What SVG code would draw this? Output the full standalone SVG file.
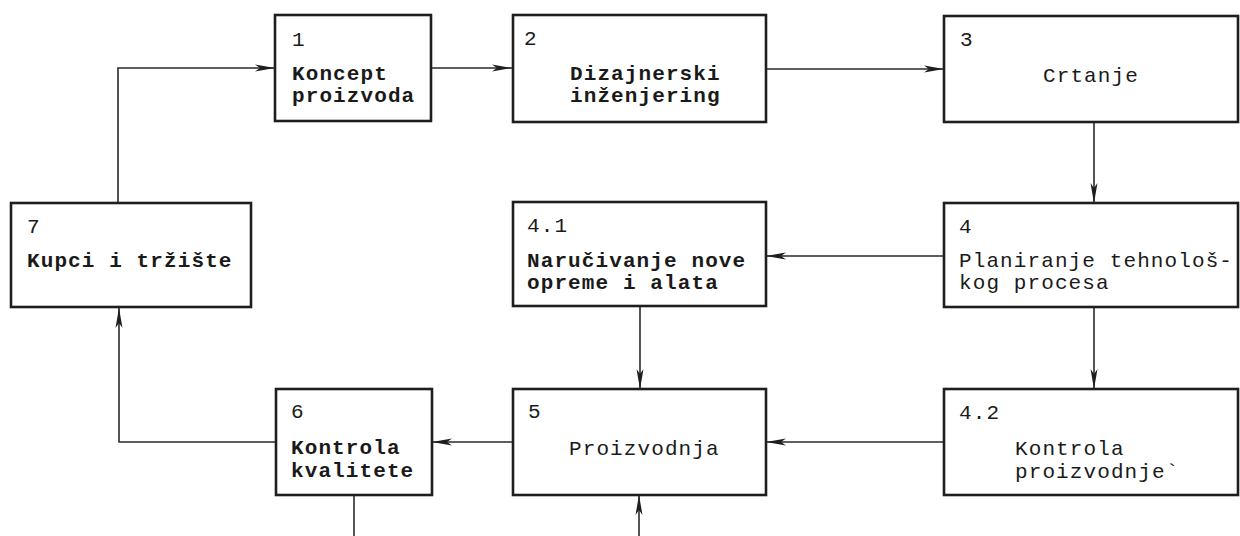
<svg xmlns="http://www.w3.org/2000/svg" width="1240" height="536" viewBox="0 0 1240 536">
<defs>
<marker id="arr" markerUnits="userSpaceOnUse" markerWidth="20" markerHeight="8" refX="20" refY="4" orient="auto" overflow="visible">
<path d="M0,0.5 L20,4 L0,7.5 L5,4 Z" fill="#1e1e1e"/>
</marker>
<style>
.box{fill:#fff;stroke:#1e1e1e;stroke-width:2.6}
.c{fill:none;stroke:#2a2a2a;stroke-width:1.6}
text{font-family:"Liberation Mono","Courier New",monospace;font-size:21px;letter-spacing:1.1px;fill:#1a1a1a}
.b{font-weight:bold}
</style>
</defs>
<rect width="1240" height="536" fill="#fff"/>
<g id="connectors">
<path class="c" d="M118,203 V68 H275" marker-end="url(#arr)"/>
<path class="c" d="M432,68 H512" marker-end="url(#arr)"/>
<path class="c" d="M766,69 H944" marker-end="url(#arr)"/>
<path class="c" d="M1094,122 V203" marker-end="url(#arr)"/>
<path class="c" d="M944,256 H766" marker-end="url(#arr)"/>
<path class="c" d="M640,307 V389" marker-end="url(#arr)"/>
<path class="c" d="M1094,308 V389" marker-end="url(#arr)"/>
<path class="c" d="M944,442 H766" marker-end="url(#arr)"/>
<path class="c" d="M513,442 H432" marker-end="url(#arr)"/>
<path class="c" d="M276,442 H119 V308" marker-end="url(#arr)"/>
<path class="c" d="M354,495 V536"/>
<path class="c" d="M639,536 V495" marker-end="url(#arr)"/>
</g>
<g id="n1">
<rect class="box" x="275" y="15" width="156" height="106"/>
<text x="292" y="46">1</text>
<text class="b" x="292" y="80">Koncept</text>
<text class="b" x="292" y="102">proizvoda</text>
</g>
<g id="n2">
<rect class="box" x="513" y="15" width="253" height="107"/>
<text x="524" y="45">2</text>
<text class="b" x="570" y="80">Dizajnerski</text>
<text class="b" x="570" y="102">inženjering</text>
</g>
<g id="n3">
<rect class="box" x="944" y="16" width="294" height="106"/>
<text x="960" y="46">3</text>
<text x="1043" y="82">Crtanje</text>
</g>
<g id="n7">
<rect class="box" x="11" y="203" width="240" height="104"/>
<text x="27" y="233">7</text>
<text class="b" x="27" y="267">Kupci i tržište</text>
</g>
<g id="n41">
<rect class="box" x="513" y="202" width="253" height="104"/>
<text x="527" y="232">4.1</text>
<text class="b" x="527" y="267">Naručivanje nove</text>
<text class="b" x="527" y="289">opreme i alata</text>
</g>
<g id="n4">
<rect class="box" x="944" y="203" width="294" height="104"/>
<text x="959" y="233">4</text>
<text x="959" y="267">Planiranje tehnološ-</text>
<text x="959" y="289">kog procesa</text>
</g>
<g id="n6">
<rect class="box" x="276" y="389" width="156" height="106"/>
<text x="291" y="418">6</text>
<text class="b" x="291" y="454">Kontrola</text>
<text class="b" x="291" y="477">kvalitete</text>
</g>
<g id="n5">
<rect class="box" x="513" y="389" width="253" height="106"/>
<text x="528" y="418">5</text>
<text x="569" y="455">Proizvodnja</text>
</g>
<g id="n42">
<rect class="box" x="944" y="389" width="294" height="106"/>
<text x="959" y="419">4.2</text>
<text x="1015" y="455">Kontrola</text>
<text x="1015" y="478">proizvodnje`</text>
</g>
</svg>
